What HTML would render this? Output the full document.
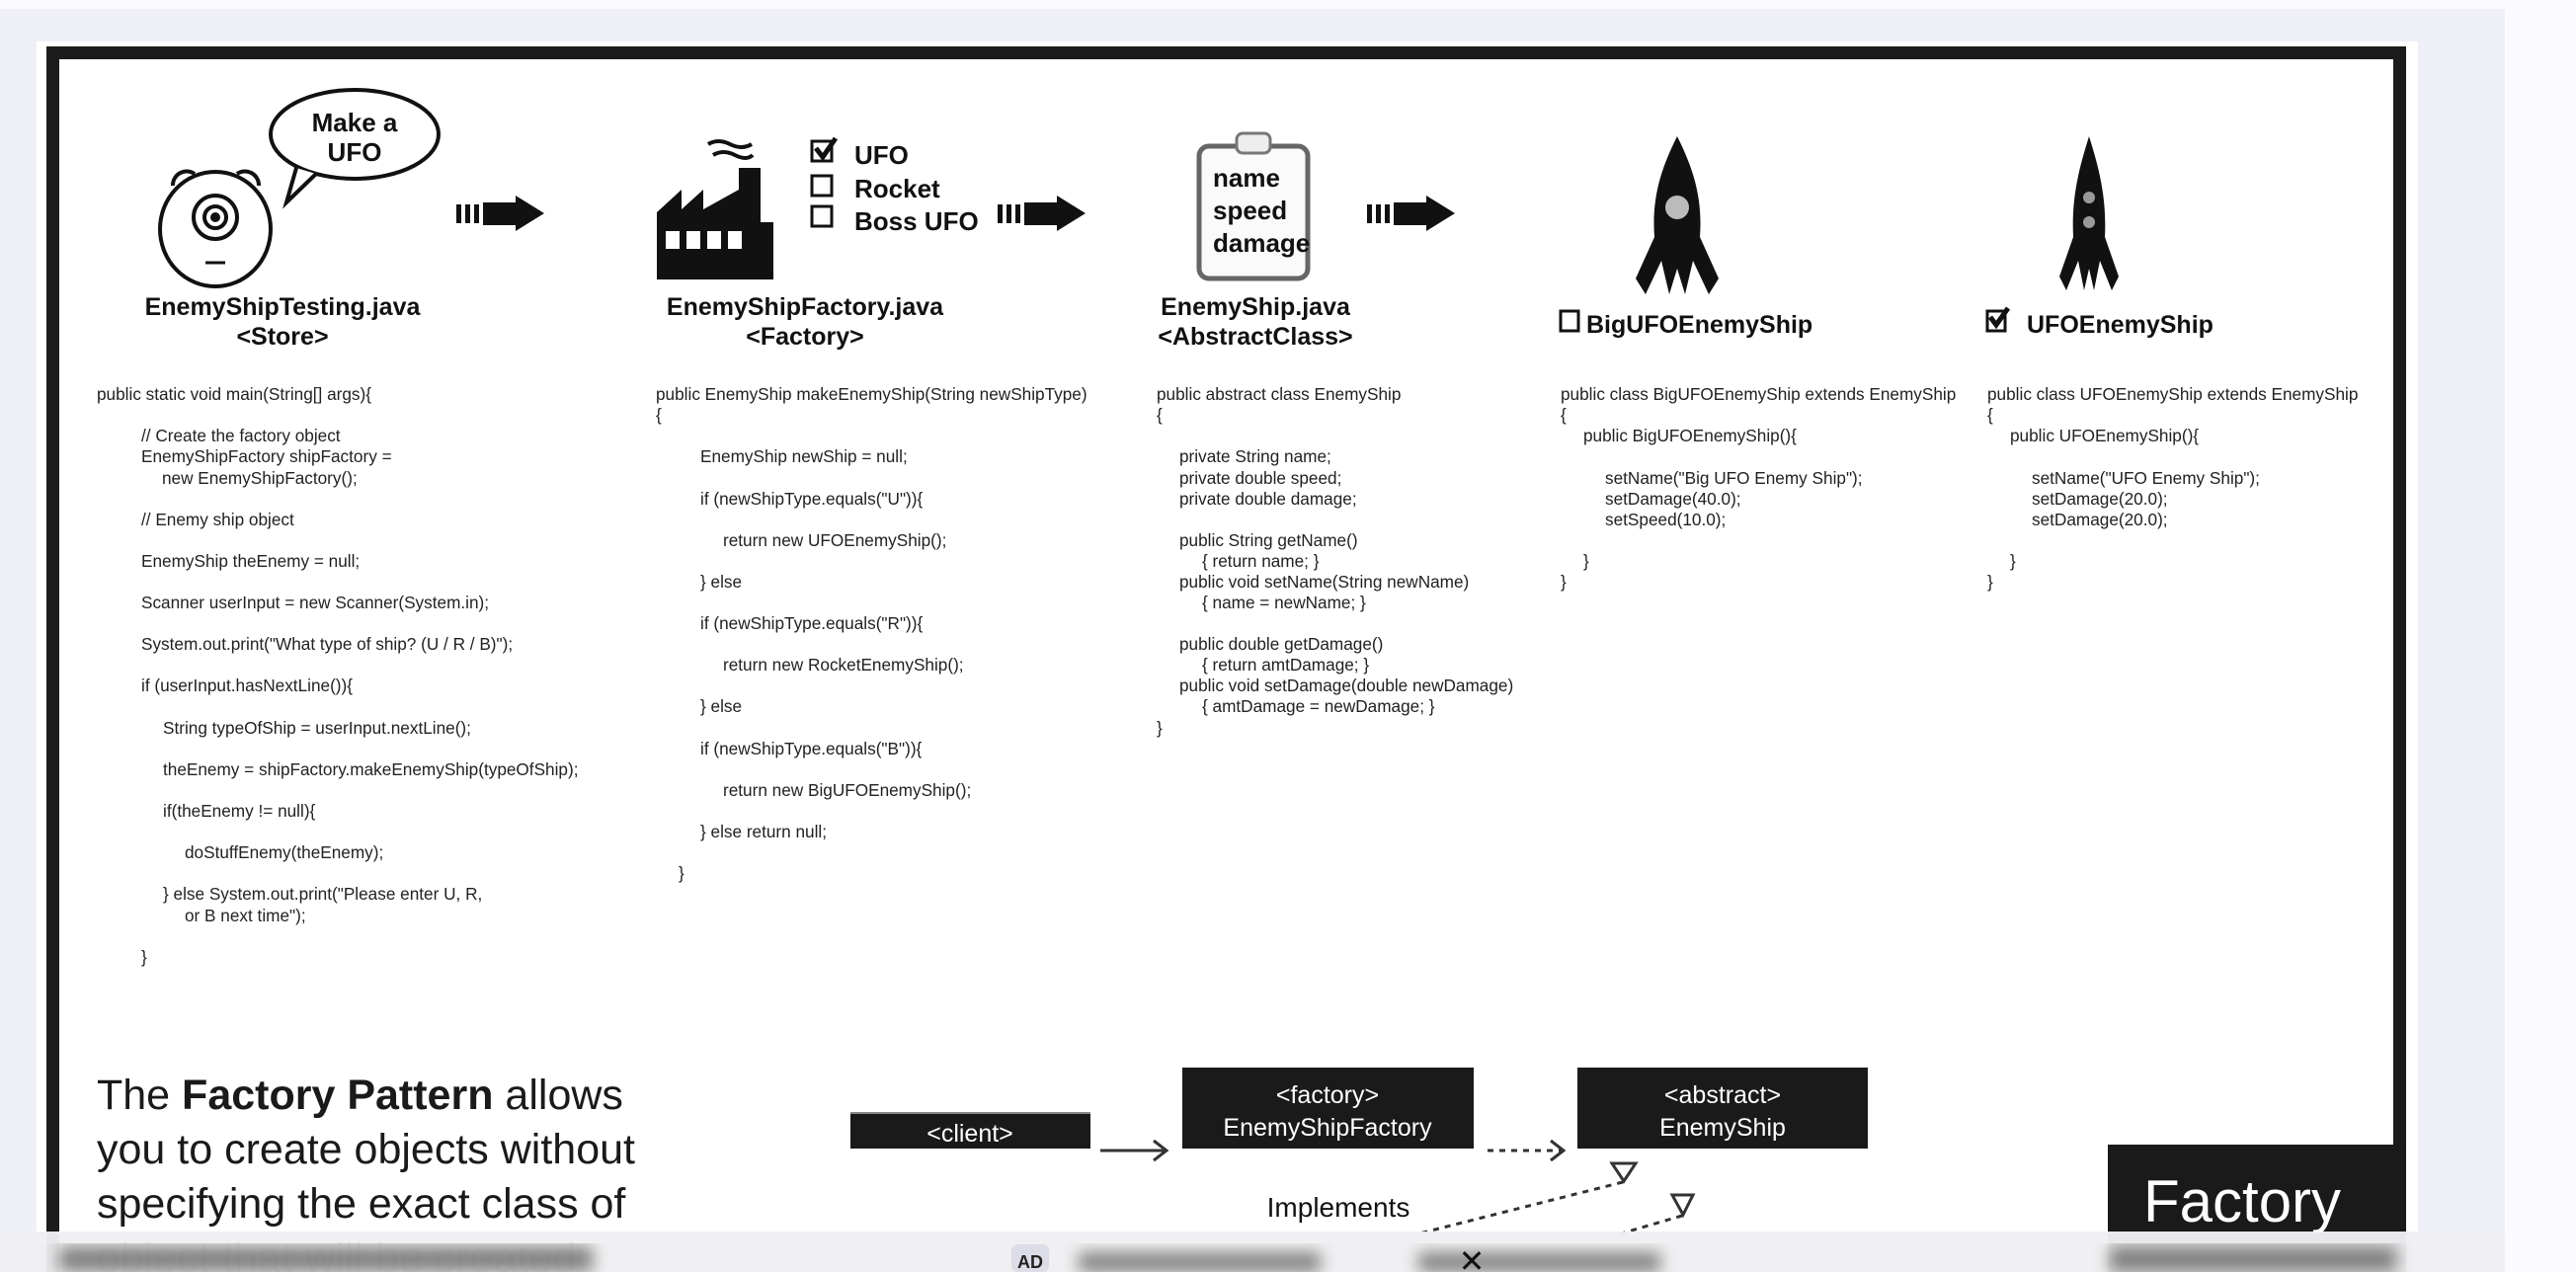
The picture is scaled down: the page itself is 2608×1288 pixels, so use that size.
<!DOCTYPE html>
<html><head><meta charset="utf-8"><style>
html,body{margin:0;padding:0;background:#eff0f7;}
svg{display:block}
.code{font-family:"Liberation Sans",sans-serif;font-size:17.2px;fill:#222}
.hd{font-family:"Liberation Sans",sans-serif;font-weight:bold;font-size:25px;fill:#111}
.hw{font-family:"Liberation Sans",sans-serif;font-weight:bold;font-size:26px;fill:#111}
.bx{font-family:"Liberation Sans",sans-serif;font-size:25px;fill:#fff}
</style></head><body>
<svg width="2608" height="1288" viewBox="0 0 2608 1288" xmlns="http://www.w3.org/2000/svg">
<defs><filter id="bl"><feGaussianBlur stdDeviation="8"/></filter></defs>
<rect x="0" y="0" width="2608" height="1288" fill="#eff0f7"/>
<rect x="0" y="0" width="2608" height="9" fill="#fafafc"/>
<rect x="2536" y="9" width="72" height="1279" fill="#fbfbfd"/>
<rect x="37" y="42" width="2411" height="1246" fill="#ffffff"/>
<rect x="53.5" y="53.5" width="2376" height="1260" fill="none" stroke="#1c1c1c" stroke-width="13"/>

<!-- monster -->
<g fill="none" stroke="#111" stroke-width="4">
<path d="M175 188 a14 14 0 0 1 22 -12"/><path d="M240 176 a14 14 0 0 1 22 12"/>
<ellipse cx="218" cy="232" rx="56" ry="58"/>
<circle cx="218" cy="220" r="22"/><circle cx="218" cy="220" r="11"/>
<line x1="208" y1="266" x2="228" y2="266" stroke-width="3"/>
<ellipse cx="359" cy="136" rx="85" ry="45"/>
</g>
<circle cx="218" cy="220" r="5" fill="#111"/>
<path d="M300 170 L290 205 L320 176" fill="#fff" stroke="#111" stroke-width="4"/>
<text x="359" y="133" text-anchor="middle" class="hw">Make a</text>
<text x="359" y="163" text-anchor="middle" class="hw">UFO</text>

<!-- arrows -->
<g fill="#111">
<rect x="462" y="207" width="5" height="19"/><rect x="471" y="207" width="5" height="19"/><rect x="480" y="207" width="5" height="19"/>
<polygon points="489,205 522,205 522,198 551,216 522,234 522,228 489,228"/>
<rect x="1010" y="207" width="5" height="19"/><rect x="1019" y="207" width="5" height="19"/><rect x="1028" y="207" width="5" height="19"/>
<polygon points="1037,205 1070,205 1070,198 1099,216 1070,234 1070,228 1037,228"/>
<rect x="1384" y="207" width="5" height="19"/><rect x="1393" y="207" width="5" height="19"/><rect x="1402" y="207" width="5" height="19"/>
<polygon points="1411,205 1444,205 1444,198 1473,216 1444,234 1444,228 1411,228"/>
</g>

<!-- factory -->
<polygon points="665,283 665,215 690,192 690,212 712,192 712,212 748,192 748,170 770,170 770,225 783,225 783,283" fill="#111"/>
<g fill="#fff"><rect x="674" y="234" width="14" height="18"/><rect x="695" y="234" width="14" height="18"/><rect x="716" y="234" width="14" height="18"/><rect x="737" y="234" width="14" height="18"/></g>
<path d="M717 146 q10 -6 22 0 t22 0 M722 157 q10 -6 22 0 t18 0" stroke="#111" stroke-width="4" fill="none"/>
<g fill="none" stroke="#111" stroke-width="3">
<rect x="822" y="143" width="20" height="20"/><rect x="822" y="178" width="20" height="20"/><rect x="822" y="209" width="20" height="20"/>
</g>
<path d="M826 150 l7 9 l13 -19" stroke="#111" stroke-width="5" fill="none"/>
<text x="865" y="166" class="hw">UFO</text>
<text x="865" y="200" class="hw">Rocket</text>
<text x="865" y="233" class="hw">Boss UFO</text>

<!-- clipboard -->
<rect x="1214" y="148" width="110" height="134" rx="10" fill="#fafafa" stroke="#666" stroke-width="5"/>
<rect x="1252" y="135" width="34" height="20" rx="6" fill="#eee" stroke="#777" stroke-width="3"/>
<text x="1228" y="189" class="hw">name</text>
<text x="1228" y="222" class="hw">speed</text>
<text x="1228" y="255" class="hw">damage</text>

<!-- rockets -->
<g fill="#111">
<path d="M1698 138 C1682 170 1672 200 1675 240 L1656 282 L1666 298 L1682 264 L1690 298 L1698 272 L1706 298 L1714 264 L1730 298 L1740 282 L1721 240 C1724 200 1714 170 1698 138 Z"/>
<path d="M2115 138 C2105 170 2097 200 2099 240 L2085 280 L2092 294 L2104 264 L2110 294 L2115 272 L2120 294 L2126 264 L2138 294 L2145 280 L2131 240 C2133 200 2125 170 2115 138 Z"/>
</g>
<circle cx="1698" cy="210" r="12" fill="#bbb"/><circle cx="2115" cy="200" r="6" fill="#999"/><circle cx="2115" cy="225" r="6" fill="#999"/>

<!-- headings -->
<text x="286" y="319" text-anchor="middle" class="hd">EnemyShipTesting.java</text>
<text x="286" y="349" text-anchor="middle" class="hd">&lt;Store&gt;</text>
<text x="815" y="319" text-anchor="middle" class="hd">EnemyShipFactory.java</text>
<text x="815" y="349" text-anchor="middle" class="hd">&lt;Factory&gt;</text>
<text x="1271" y="319" text-anchor="middle" class="hd">EnemyShip.java</text>
<text x="1271" y="349" text-anchor="middle" class="hd">&lt;AbstractClass&gt;</text>
<rect x="1580" y="315" width="18" height="20" fill="none" stroke="#111" stroke-width="3"/>
<text x="1606" y="337" class="hd">BigUFOEnemyShip</text>
<rect x="2012" y="315" width="18" height="20" fill="none" stroke="#111" stroke-width="3"/>
<path d="M2015 321 l6 8 l12 -17" stroke="#111" stroke-width="5" fill="none"/>
<text x="2052" y="337" class="hd">UFOEnemyShip</text>

<!-- code col1 -->
<g class="code">
<text x="98" y="405">public static void main(String[] args){</text>
<text x="143" y="447">// Create the factory object</text>
<text x="143" y="468">EnemyShipFactory shipFactory =</text>
<text x="164" y="490">new EnemyShipFactory();</text>
<text x="143" y="532">// Enemy ship object</text>
<text x="143" y="574">EnemyShip theEnemy = null;</text>
<text x="143" y="616">Scanner userInput = new Scanner(System.in);</text>
<text x="143" y="658">System.out.print("What type of ship? (U / R / B)");</text>
<text x="143" y="700">if (userInput.hasNextLine()){</text>
<text x="165" y="743">String typeOfShip = userInput.nextLine();</text>
<text x="165" y="785">theEnemy = shipFactory.makeEnemyShip(typeOfShip);</text>
<text x="165" y="827">if(theEnemy != null){</text>
<text x="187" y="869">doStuffEnemy(theEnemy);</text>
<text x="165" y="911">} else System.out.print("Please enter U, R,</text>
<text x="187" y="933">or B next time");</text>
<text x="143" y="975">}</text>
</g>
<g class="code">
<text x="664" y="405">public EnemyShip makeEnemyShip(String newShipType)</text>
<text x="664" y="426">{</text>
<text x="709" y="468">EnemyShip newShip = null;</text>
<text x="709" y="511">if (newShipType.equals("U")){</text>
<text x="732" y="553">return new UFOEnemyShip();</text>
<text x="709" y="595">} else</text>
<text x="709" y="637">if (newShipType.equals("R")){</text>
<text x="732" y="679">return new RocketEnemyShip();</text>
<text x="709" y="721">} else</text>
<text x="709" y="764">if (newShipType.equals("B")){</text>
<text x="732" y="806">return new BigUFOEnemyShip();</text>
<text x="709" y="848">} else return null;</text>
<text x="687" y="890">}</text>
</g>
<g class="code">
<text x="1171" y="405">public abstract class EnemyShip</text>
<text x="1171" y="426">{</text>
<text x="1194" y="468">private String name;</text>
<text x="1194" y="490">private double speed;</text>
<text x="1194" y="511">private double damage;</text>
<text x="1194" y="553">public String getName()</text>
<text x="1217" y="574">{ return name; }</text>
<text x="1194" y="595">public void setName(String newName)</text>
<text x="1217" y="616">{ name = newName; }</text>
<text x="1194" y="658">public double getDamage()</text>
<text x="1217" y="679">{ return amtDamage; }</text>
<text x="1194" y="700">public void setDamage(double newDamage)</text>
<text x="1217" y="721">{ amtDamage = newDamage; }</text>
<text x="1171" y="743">}</text>
</g>
<g class="code">
<text x="1580" y="405">public class BigUFOEnemyShip extends EnemyShip</text>
<text x="1580" y="426">{</text>
<text x="1603" y="447">public BigUFOEnemyShip(){</text>
<text x="1625" y="490">setName("Big UFO Enemy Ship");</text>
<text x="1625" y="511">setDamage(40.0);</text>
<text x="1625" y="532">setSpeed(10.0);</text>
<text x="1603" y="574">}</text>
<text x="1580" y="595">}</text>
</g>
<g class="code">
<text x="2012" y="405">public class UFOEnemyShip extends EnemyShip</text>
<text x="2012" y="426">{</text>
<text x="2035" y="447">public UFOEnemyShip(){</text>
<text x="2057" y="490">setName("UFO Enemy Ship");</text>
<text x="2057" y="511">setDamage(20.0);</text>
<text x="2057" y="532">setDamage(20.0);</text>
<text x="2035" y="574">}</text>
<text x="2012" y="595">}</text>
</g>

<!-- bottom text -->
<g font-family="Liberation Sans, sans-serif" font-size="43" fill="#1a1a1a">
<text x="98" y="1123">The <tspan font-weight="bold">Factory Pattern</tspan> allows</text>
<text x="98" y="1178">you to create objects without</text>
<text x="98" y="1233">specifying the exact class of</text>
<text x="98" y="1288">object that will be created</text>
</g>

<!-- UML -->
<rect x="861" y="1126" width="243" height="37" fill="#1a1a1a"/>
<line x1="861" y1="1127" x2="1104" y2="1127" stroke="#888" stroke-width="2"/>
<text x="982" y="1156" text-anchor="middle" class="bx">&lt;client&gt;</text>
<rect x="1197" y="1081" width="295" height="82" fill="#1a1a1a"/>
<text x="1344" y="1117" text-anchor="middle" class="bx">&lt;factory&gt;</text>
<text x="1344" y="1150" text-anchor="middle" class="bx">EnemyShipFactory</text>
<rect x="1597" y="1081" width="294" height="82" fill="#1a1a1a"/>
<text x="1744" y="1117" text-anchor="middle" class="bx">&lt;abstract&gt;</text>
<text x="1744" y="1150" text-anchor="middle" class="bx">EnemyShip</text>
<g stroke="#333" stroke-width="3" fill="none">
<line x1="1114" y1="1165" x2="1180" y2="1165"/><path d="M1168 1155 L1181 1165 L1168 1175"/>
<line x1="1506" y1="1165" x2="1582" y2="1165" stroke-dasharray="6,6"/><path d="M1570 1155 L1583 1165 L1570 1175"/>
<line x1="1643" y1="1197" x2="1433" y2="1250" stroke-dasharray="6,6"/>
<line x1="1703" y1="1231" x2="1638" y2="1250" stroke-dasharray="6,6"/>
<polygon points="1632,1178 1656,1178 1644,1196"/>
<polygon points="1693,1210 1714,1210 1704,1230"/>
</g>
<text x="1355" y="1232" text-anchor="middle" font-family="Liberation Sans, sans-serif" font-size="28" fill="#111">Implements</text>
<rect x="2134" y="1159" width="302" height="129" fill="#1a1a1a"/>
<text x="2170" y="1237" font-family="Liberation Sans, sans-serif" font-size="60" fill="#fff">Factory</text>

<!-- ad bar -->
<rect x="0" y="1247" width="2536" height="41" fill="#f0f0f2" opacity="0.97"/>
<g filter="url(#bl)" fill="#666" opacity="0.8">
<rect x="60" y="1262" width="540" height="26"/>
<rect x="1092" y="1268" width="245" height="20"/>
<rect x="1436" y="1268" width="245" height="20"/>
<rect x="2136" y="1262" width="290" height="26"/>
</g>
<rect x="1024" y="1260" width="38" height="28" rx="6" fill="#dcdde6"/>
<text x="1043" y="1284" text-anchor="middle" font-family="Liberation Sans, sans-serif" font-weight="bold" font-size="18" fill="#222">AD</text>
<text x="1490" y="1288" text-anchor="middle" font-family="DejaVu Sans, sans-serif" font-size="32" fill="#111">✕</text>
</svg>
</body></html>
